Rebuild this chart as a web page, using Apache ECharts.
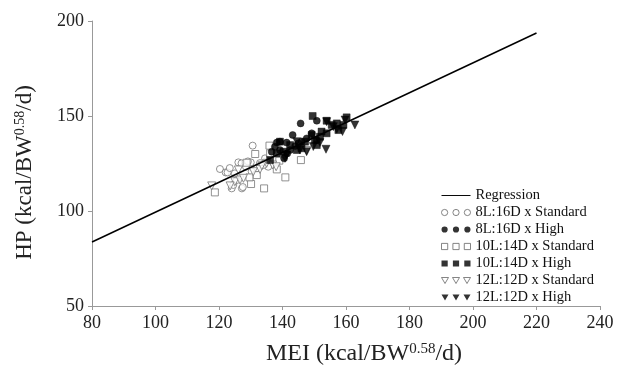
<!DOCTYPE html>
<html>
<head>
<meta charset="utf-8">
<script src="https://cdn.jsdelivr.net/npm/echarts@6/dist/echarts.min.js"></script>
<style>html,body{margin:0;padding:0;background:#fff}#c{width:617px;height:367px}</style>
</head>
<body>
<div id="c"></div>
<script>
var xTicks = [80, 100, 120, 140, 160, 180, 200, 220, 240];
var yTicks = [50, 100, 150, 200];

var regression = [[80, 83.7], [220, 193.7]];

var std8 = [[130.6,134.4],[120.3,122.1],[122.1,120.3],[122.7,120.3],[126.1,125.6],[127.1,125.1],[130.0,125.6],[124.0,111.9],[124.5,113.7],[128.5,123.3],[131.9,122.4],[134.5,127.7],[135.5,123.3],[125.6,116.3],[134.0,124.2],[130.3,120.7],[123.4,122.6],[125.0,119.8],[129.1,126.1],[132.9,125.2],[127.2,111.9],[127.5,112.6]];
var high8 = [[145.7,146.1],[150.8,147.5],[143.2,140.0],[138.2,136.0],[141.3,136.0],[145.0,135.6],[139.2,132.1],[136.6,131.2],[142.4,132.1],[140.5,127.7],[147.6,138.2],[144.0,134.2],[149.2,140.9],[137.6,133.8],[146.0,136.5],[141.5,130.3],[150.8,137.4],[139.2,136.5]];
var std10 = [[131.4,130.0],[135.9,134.4],[118.7,109.8],[130.1,114.2],[134.2,111.9],[140.9,117.7],[145.8,126.8],[129.6,117.7],[138.2,121.9],[139.0,126.5],[131.9,118.9],[128.7,125.4],[136.1,130.3]];
var high10 = [[149.5,150.0],[160.2,149.3],[153.9,147.5],[139.2,136.5],[136.1,126.8],[149.2,140.0],[152.3,141.8],[155.5,145.3],[157.1,146.1],[159.2,145.3],[150.8,134.7],[142.4,134.7],[144.5,132.1],[147.1,136.5],[151.8,139.1],[140.3,131.2],[153.9,140.9],[146.0,133.0],[150.2,137.4],[138.2,130.3],[157.6,142.6]];
var std12 = [[117.7,113.2],[125.0,115.4],[126.6,116.3],[127.7,117.2],[126.1,121.6],[132.9,121.9],[135.0,125.1],[136.9,124.2],[123.5,113.2],[130.8,120.7],[138.0,123.3],[147.6,131.8],[133.5,123.8]];
var high12 = [[162.8,145.3],[153.9,147.0],[153.7,132.5],[147.6,131.2],[158.9,141.8],[156.0,144.4],[140.8,127.7],[149.7,133.9],[144.5,136.5],[157.1,143.0],[151.8,136.0],[141.3,129.5],[145.5,132.1],[159.7,147.9]];

var names = ['Regression','8L:16D x Standard','8L:16D x High','10L:14D x Standard','10L:14D x High','12L:12D x Standard','12L:12D x High'];

var serif = '"Liberation Serif", "DejaVu Serif", serif';
var iconLine = 'path://M0,3.6h30v1h-30Z';
var iconCircle = 'path://M1,4a3,3 0 1,0 6,0a3,3 0 1,0 -6,0Z M12,4a3,3 0 1,0 6,0a3,3 0 1,0 -6,0Z M23,4a3,3 0 1,0 6,0a3,3 0 1,0 -6,0Z';
var iconSquare = 'path://M1,1h6v6h-6Z M12,1h6v6h-6Z M23,1h6v6h-6Z';
var iconTri = 'path://M0.5,1h7l-3.5,6Z M11.5,1h7l-3.5,6Z M22.5,1h7l-3.5,6Z';

var openStyle = {color: '#fff', borderColor: '#777', borderWidth: 1};
var fillStyle = {color: '#000', borderColor: '#000', borderWidth: 0.5};
var legOpen = {color: '#fff', borderColor: '#666', borderWidth: 1};
var legFill = {color: '#000', borderColor: '#000', borderWidth: 0};

function sc(name, data, symbol, style, rot) {
  return {name: name, type: 'scatter', data: data, symbol: symbol, symbolSize: symbol === 'triangle' ? 8 : 7,
    symbolRotate: rot || 0, itemStyle: style, z: 2};
}

var chart = echarts.init(document.getElementById('c'), null, {renderer: 'canvas'});
chart.setOption({
  animation: false,
  backgroundColor: '#fff',
  grid: {left: 92, right: 17, top: 21, bottom: 61, containLabel: false, outerBoundsMode: 'none'},
  xAxis: {
    type: 'value', min: xTicks[0], max: xTicks[xTicks.length - 1], interval: 20,
    axisLine: {show: true, lineStyle: {color: '#999', width: 1}},
    axisTick: {show: true, length: 4, lineStyle: {color: '#999'}},
    splitLine: {show: false},
    axisLabel: {color: '#222', fontFamily: serif, fontSize: 18, margin: 8},
    name: 'MEI (kcal/BW{sup|0.58}/d)', nameLocation: 'middle', nameGap: 36,
    nameTextStyle: {color: '#222', fontFamily: serif, fontSize: 24, padding: [0, 0, 0, 36],
      rich: {sup: {fontFamily: serif, fontSize: 15, verticalAlign: 'top', color: '#222'}}}
  },
  yAxis: {
    type: 'value', min: yTicks[0], max: yTicks[yTicks.length - 1], interval: 50,
    axisLine: {show: true, lineStyle: {color: '#999', width: 1}},
    axisTick: {show: true, length: 4, lineStyle: {color: '#999'}},
    splitLine: {show: false},
    axisLabel: {color: '#222', fontFamily: serif, fontSize: 18, margin: 8},
    name: 'HP (kcal/BW{sup|0.58}/d)', nameLocation: 'middle', nameGap: 56, nameRotate: 90,
    nameTextStyle: {color: '#222', fontFamily: serif, fontSize: 23, padding: [0, 18, 0, 0],
      rich: {sup: {fontFamily: serif, fontSize: 14, verticalAlign: 'top', color: '#222'}}}
  },
  legend: {
    orient: 'vertical', left: 436, top: 183, itemWidth: 29, itemHeight: 8, itemGap: 2,
    textStyle: {fontFamily: serif, fontSize: 14.5, color: '#111'},
    data: [
      {name: names[0], icon: iconLine, itemStyle: {color: '#000', borderWidth: 0}},
      {name: names[1], icon: iconCircle, itemStyle: legOpen},
      {name: names[2], icon: iconCircle, itemStyle: legFill},
      {name: names[3], icon: iconSquare, itemStyle: legOpen},
      {name: names[4], icon: iconSquare, itemStyle: legFill},
      {name: names[5], icon: iconTri, itemStyle: legOpen},
      {name: names[6], icon: iconTri, itemStyle: legFill}
    ]
  },
  series: [
    sc(names[1], std8, 'circle', openStyle),
    sc(names[3], std10, 'rect', openStyle),
    sc(names[5], std12, 'triangle', openStyle, 180),
    sc(names[2], high8, 'circle', fillStyle),
    sc(names[4], high10, 'rect', fillStyle),
    sc(names[6], high12, 'triangle', fillStyle, 180),
    {name: names[0], type: 'line', data: regression, symbol: 'none', z: 3,
      lineStyle: {color: '#000', width: 1.5}, itemStyle: {color: '#000'}}
  ]
});
</script>
</body>
</html>
